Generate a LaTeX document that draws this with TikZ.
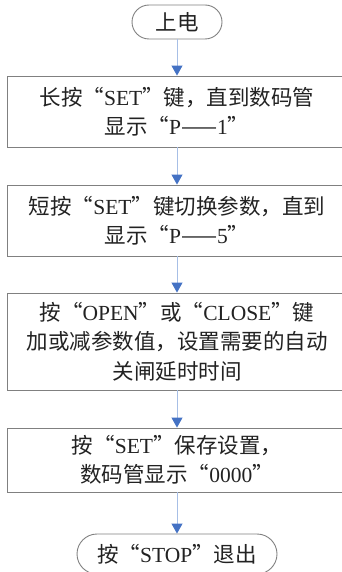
\documentclass[tikz,border=0pt]{standalone}
\usepackage{fontspec}
\setmainfont{Liberation Serif}
\newfontfamily\cjk{Noto Sans CJK SC}
\usetikzlibrary{arrows.meta}
\definecolor{boxgray}{HTML}{808080}
\definecolor{linkblue}{HTML}{A7BFE6}
\definecolor{tipblue}{HTML}{4472C4}
\definecolor{txt}{HTML}{222222}
\newcommand{\C}[1]{{\cjk #1}}
\tikzset{
  stepbox/.style={draw=boxgray, line width=0.9pt, rectangle, minimum width=340pt, inner sep=0pt, align=center, text=txt, font=\fontsize{21.5}{29.5}\selectfont},
  termbox/.style={draw=boxgray, line width=0.9pt, rectangle, inner sep=0pt, align=center, text=txt, font=\fontsize{21.5}{29.5}\selectfont},
  link/.style={draw=linkblue, line width=1pt, -{Triangle[length=10pt,width=11pt,color=tipblue,fill=tipblue]}}
}
\begin{document}
\begin{tikzpicture}[x=1pt,y=1pt]
\useasboundingbox (0,0) rectangle (342,-572);
\clip (0,0) rectangle (342,-572);
\node[termbox, minimum width=90pt, minimum height=34pt, rounded corners=17pt] (start) at (177,-22) {\C{上电}};
\node[stepbox, minimum height=71pt] (b1) at (177,-111.5) {\C{长按“}SET\C{”键，直到数码管}\\\C{显示“}P\C{——}1\C{”}};
\node[stepbox, minimum height=71pt] (b2) at (177,-220.5) {\C{短按“}SET\C{”键切换参数，直到}\\\C{显示“}P\C{——}5\C{”}};
\node[stepbox, minimum height=97pt] (b3) at (177,-341.5) {\C{按“}OPEN\C{”或“}CLOSE\C{”键}\\\C{加或减参数值，设置需要的自动}\\\C{关闸延时时间}};
\node[stepbox, minimum height=64pt] (b4) at (177,-460) {\C{按“}SET\C{”保存设置，}\\\C{数码管显示“}0000\C{”}};
\node[termbox, minimum width=200pt, minimum height=40pt, rounded corners=20pt] (stop) at (177,-554) {\C{按“}STOP\C{”退出}};
\draw[link] (start) -- (b1);
\draw[link] (b1) -- (b2);
\draw[link] (b2) -- (b3);
\draw[link] (b3) -- (b4);
\draw[link] (b4) -- (stop);
\end{tikzpicture}
\end{document}
